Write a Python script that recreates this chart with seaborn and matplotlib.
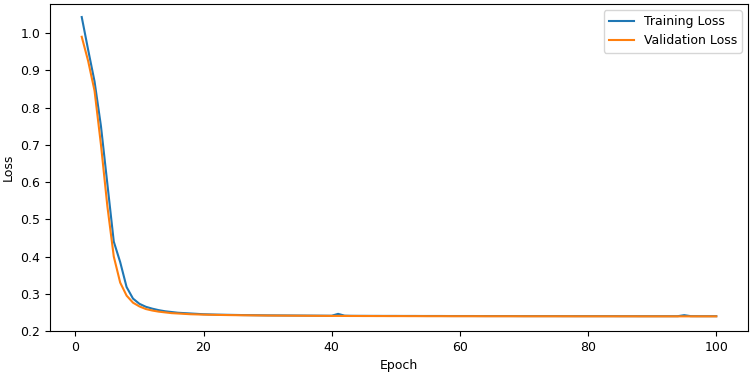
import matplotlib
matplotlib.use("Agg")
import matplotlib.pyplot as plt
import seaborn as sns
import pandas as pd

epochs = list(range(1, 101))

train_loss = [
    1.043, 0.955, 0.870, 0.750, 0.595, 0.440, 0.385, 0.318, 0.287, 0.273,
    0.265, 0.260, 0.256, 0.253, 0.251, 0.249, 0.248, 0.247, 0.246, 0.245,
    0.2445, 0.2440, 0.2437, 0.2434, 0.2431, 0.2428, 0.2426, 0.2424, 0.2422, 0.2420,
    0.2419, 0.2418, 0.2417, 0.2416, 0.2415, 0.2414, 0.2413, 0.2412, 0.2411, 0.2410,
    0.2460, 0.2412, 0.2408, 0.2407, 0.2407, 0.2406, 0.2406, 0.2405, 0.2405, 0.2405,
    0.2404, 0.2404, 0.2404, 0.2403, 0.2403, 0.2403, 0.2403, 0.2402, 0.2402, 0.2402,
    0.2402, 0.2402, 0.2401, 0.2401, 0.2401, 0.2401, 0.2401, 0.2401, 0.2400, 0.2400,
    0.2400, 0.2400, 0.2400, 0.2400, 0.2400, 0.2399, 0.2399, 0.2399, 0.2399, 0.2399,
    0.2399, 0.2399, 0.2399, 0.2399, 0.2398, 0.2398, 0.2398, 0.2398, 0.2398, 0.2398,
    0.2398, 0.2398, 0.2398, 0.2398, 0.2425, 0.2399, 0.2398, 0.2398, 0.2398, 0.2398,
]

val_loss = [
    0.990, 0.925, 0.845, 0.700, 0.535, 0.400, 0.330, 0.295, 0.276, 0.266,
    0.259, 0.255, 0.252, 0.250, 0.248, 0.247, 0.246, 0.245, 0.2445, 0.2440,
    0.2436, 0.2433, 0.2430, 0.2427, 0.2425, 0.2423, 0.2421, 0.2419, 0.2417, 0.2415,
    0.2414, 0.2413, 0.2412, 0.2411, 0.2410, 0.2409, 0.2408, 0.2407, 0.2406, 0.2405,
    0.2405, 0.2404, 0.2403, 0.2403, 0.2402, 0.2402, 0.2401, 0.2401, 0.2400, 0.2400,
    0.2400, 0.2399, 0.2399, 0.2399, 0.2398, 0.2398, 0.2398, 0.2398, 0.2397, 0.2397,
    0.2397, 0.2397, 0.2397, 0.2396, 0.2396, 0.2396, 0.2396, 0.2396, 0.2396, 0.2395,
    0.2395, 0.2395, 0.2395, 0.2395, 0.2395, 0.2395, 0.2395, 0.2394, 0.2394, 0.2394,
    0.2394, 0.2394, 0.2394, 0.2394, 0.2394, 0.2394, 0.2394, 0.2393, 0.2393, 0.2393,
    0.2393, 0.2393, 0.2393, 0.2393, 0.2393, 0.2393, 0.2393, 0.2393, 0.2393, 0.2393,
]

df = pd.DataFrame({
    "Epoch": epochs * 2,
    "Loss": train_loss + val_loss,
    "Series": ["Training Loss"] * 100 + ["Validation Loss"] * 100,
})

plt.rcParams["font.size"] = 9
plt.rcParams["font.family"] = ["DejaVu Sans"]

fig, ax = plt.subplots(figsize=(7.54, 3.72), dpi=100)
sns.lineplot(data=df, x="Epoch", y="Loss", hue="Series",
             palette=["#1f77b4", "#ff7f0e"], ax=ax, linewidth=1.5)
ax.set_ylim(0.2, 1.078)
ax.set_xlim(-3.95, 104.95)
ax.set_xlabel("Epoch")
ax.set_ylabel("Loss")
ax.legend(title=None, loc="upper right")
fig.subplots_adjust(left=50/754, right=748/754, top=1-4/372, bottom=1-331/372)
fig.savefig("out.png", dpi=100)
